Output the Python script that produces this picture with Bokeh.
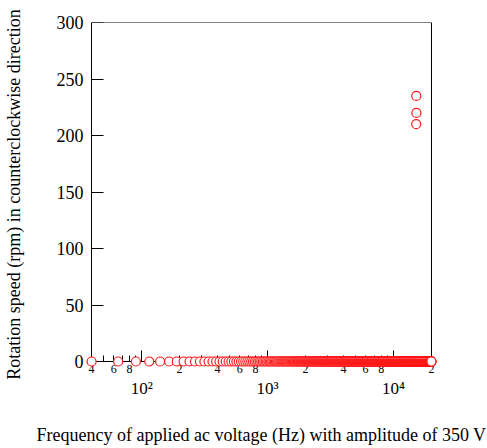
import numpy as np
from bokeh.plotting import figure
from bokeh.models import Range1d, FixedTicker, LogAxis, LinearAxis, ColumnDataSource
from bokeh.embed import file_html
from bokeh.resources import INLINE

# ---- data ----
sweep_start = 40      # Hz
sweep_stop = 20000    # Hz
sweep_step = 25       # Hz
peak_freqs = [15140, 15165, 15190]
peak_speeds = [210, 235, 220]

y_ticks = [0, 50, 100, 150, 200, 250, 300]
decades = [100, 1000, 10000]
decade_labels = ["10²", "10³", "10⁴"]
minor_labeled = [40, 60, 80, 200, 400, 600, 800, 2000, 4000, 6000, 8000, 20000]
minor_labels = ["4", "6", "8", "2", "4", "6", "8", "2", "4", "6", "8", "2"]
minor_unlabeled = [50, 70, 90, 300, 500, 700, 900, 3000, 5000, 7000, 9000]

freqs = list(range(sweep_start, sweep_stop, sweep_step)) + [sweep_stop]
speeds = [0.0] * len(freqs)
for f, s in zip(peak_freqs, peak_speeds):
    speeds[freqs.index(f)] = s

source = ColumnDataSource(data=dict(freq=freqs, speed=speeds))

FONT = "Liberation Serif"

p = figure(
    x_axis_type="log",
    x_range=Range1d(35.8, 22350),
    y_range=Range1d(-4.42, 300),
    frame_width=352, frame_height=344,
    min_border_left=85, min_border_right=50,
    min_border_top=22, min_border_bottom=82,
    x_axis_location=None, y_axis_location=None,
    output_backend="svg", toolbar_location=None,
)
p.outline_line_color = None
p.grid.visible = False
p.background_fill_color = "white"
p.border_fill_color = "white"

NOTICK = dict(major_tick_in=0, major_tick_out=0, minor_tick_in=0, minor_tick_out=0)

# ---- label-only axes at the frame edges ----
xDigits = LogAxis(
    ticker=FixedTicker(ticks=minor_labeled, minor_ticks=[]),
    axis_line_color=None, **NOTICK,
    major_label_overrides=dict(zip(minor_labeled, minor_labels)),
    major_label_text_font=FONT, major_label_text_font_size="12px",
    major_label_text_color="black", major_label_standoff=-2,
)
p.add_layout(xDigits, "below")

xDecades = LogAxis(
    ticker=FixedTicker(ticks=decades, minor_ticks=[]),
    axis_line_color=None, **NOTICK,
    major_label_overrides=dict(zip(decades, decade_labels)),
    major_label_text_font=FONT, major_label_text_font_size="17px",
    major_label_text_color="black", major_label_standoff=3,
    axis_label="Frequency of applied ac voltage (Hz) with amplitude of 350 V",
    axis_label_text_font=FONT, axis_label_text_font_size="18px",
    axis_label_text_font_style="normal", axis_label_text_color="black",
    axis_label_standoff=24,
)
p.add_layout(xDecades, "below")

yLabels = LinearAxis(
    ticker=FixedTicker(ticks=y_ticks, minor_ticks=[]),
    axis_line_color=None, **NOTICK,
    major_label_text_font=FONT, major_label_text_font_size="18px",
    major_label_text_color="black", major_label_standoff=2,
    axis_label="Rotation speed (rpm) in counterclockwise direction",
    axis_label_text_font=FONT, axis_label_text_font_size="18px",
    axis_label_text_font_style="normal", axis_label_text_color="black",
    axis_label_standoff=30,
)
p.add_layout(yLabels, "left")

# ---- axis lines and inward ticks at the data limits ----
xA = LogAxis(
    fixed_location=0, bounds=(sweep_start, sweep_stop),
    ticker=FixedTicker(ticks=decades, minor_ticks=minor_labeled + minor_unlabeled),
    major_tick_in=11, major_tick_out=0, minor_tick_in=6, minor_tick_out=0,
    major_label_overrides={d: "" for d in decades},
    axis_line_color="black", axis_line_width=1,
    major_tick_line_color="black", minor_tick_line_color="black",
)
p.add_layout(xA, "below")

yA = LinearAxis(
    fixed_location=sweep_start, bounds=(0, 300),
    ticker=FixedTicker(ticks=y_ticks, minor_ticks=[]),
    major_tick_in=12, major_tick_out=0, minor_tick_in=0, minor_tick_out=0,
    major_label_overrides={t: "" for t in y_ticks},
    axis_line_color="black", axis_line_width=1,
    major_tick_line_color="black",
)
p.add_layout(yA, "left")

yR = LinearAxis(
    fixed_location=sweep_stop, bounds=(0, 300),
    ticker=FixedTicker(ticks=[], minor_ticks=[]), **NOTICK,
    axis_line_color="black", axis_line_width=1,
)
p.add_layout(yR, "right")
xT = LogAxis(
    fixed_location=300, bounds=(sweep_start, sweep_stop),
    ticker=FixedTicker(ticks=[], minor_ticks=[]), **NOTICK,
    axis_line_color="black", axis_line_width=1,
)
p.add_layout(xT, "above")

p.scatter("freq", "speed", source=source, marker="circle", size=9,
          line_color="#ff1a1a", fill_color="white", line_width=1.2,
          level="overlay")

open("out.html", "w").write(file_html(p, INLINE))
